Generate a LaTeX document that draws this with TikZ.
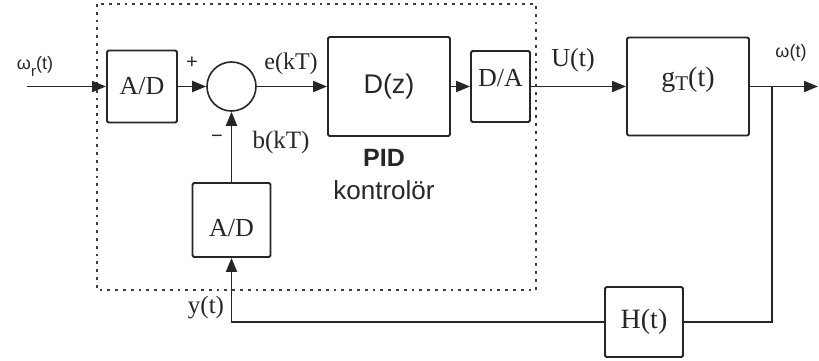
\documentclass[tikz,border=0pt]{standalone}
\usepackage{fontspec}
\setmainfont{Liberation Serif}
\setsansfont{Liberation Sans}
\usepackage{tikz}
\usetikzlibrary{arrows.meta,positioning}
\definecolor{ink}{HTML}{262626}
\definecolor{dotgray}{HTML}{3C3C3C}
\tikzset{
    every picture/.style={line join=miter},
    blockbox/.style={draw=ink,line width=1.9pt,rounded corners=1.5pt,inner sep=0pt,
      text=ink,font=\fontsize{26}{28}\selectfont},
    sumnode/.style={draw=ink,circle,line width=1.6pt,minimum size=49pt,inner sep=0pt},
    sigline/.style={draw=ink,line width=1.9pt},
    sigarrow/.style={sigline,-{Triangle[length=14pt,width=11pt]}},
    siglabel/.style={inner sep=0pt,text=ink,font=\fontsize{25}{28}\selectfont},
    greeklabel/.style={inner sep=0pt,text=ink,font=\sffamily\fontsize{18}{20}\selectfont},
    sflabel/.style={inner sep=0pt,text=ink,font=\sffamily\fontsize{26}{28}\selectfont},
    ctrlbox/.style={draw=dotgray,line width=2.8pt,dash pattern=on 2.8pt off 5pt}
}

\begin{document}
\begin{tikzpicture}[x=1pt,y=-1pt]
  \useasboundingbox (0,0) rectangle (819,361);
  % kontrolör sınırı
  \draw[ctrlbox] (97,4) rectangle (536,290);
  % bloklar
  \node[blockbox,minimum width=70pt,minimum height=72pt] (adin) at (142,86.5) {A/D};
  \node[sumnode] (sum) at (231.5,86.5) {};
  \node[blockbox,minimum width=122pt,minimum height=99pt,
    font=\sffamily\fontsize{27}{29}\selectfont] (dz) at (389,86.5) {D(z)};
  \node[blockbox,minimum width=59pt,minimum height=71pt] (da) at (500.5,86.5)
    {\raisebox{0pt}[0pt][0pt]{D/A}};
  \node[blockbox,minimum width=122pt,minimum height=98pt,
    font=\fontsize{28}{30}\selectfont] (gt) at (688,86.5)
    {\raisebox{0pt}[0pt][0pt]{g\raisebox{-4pt}{\fontsize{21}{21}\selectfont T}(t)}};
  \node[blockbox,minimum width=78pt,minimum height=74pt] (adfb) at (231.5,220)
    {\raisebox{-16pt}[0pt][0pt]{A/D}};
  \node[blockbox,minimum width=78pt,minimum height=70pt,
    font=\fontsize{28}{30}\selectfont] (ht) at (644,322) {H(t)};
  \coordinate (in) at (27,86.5);
  \coordinate (out) at (818,86.5);
  \coordinate (branch) at (772,86.5);
  % bağlantılar
  \draw[sigarrow] (in) -- (adin.west);
  \draw[sigarrow] (adin.east) -- (sum.west);
  \draw[sigarrow] (sum.east) -- (dz.west);
  \draw[sigarrow] (dz.east) -- (da.west);
  \draw[sigarrow] (da.east) -- (gt.west);
  \draw[sigarrow] (gt.east) -- (out);
  \draw[sigline] (branch) |- (ht.east);
  \draw[sigarrow] (ht.west) -| (adfb.south);
  \draw[sigarrow] (adfb.north) -- (sum.south);
  % etiketler
  \node[greeklabel] (wr) at (35,66) {ω\raisebox{-7pt}{\fontsize{15}{15}\selectfont r}(t)};
  \node[sflabel,font=\sffamily\fontsize{20}{22}\selectfont] (plus) at (192,63) {+};
  \node[sflabel,font=\sffamily\fontsize{20}{22}\selectfont] (minus) at (217,139) {−};
  \node[siglabel,font=\fontsize{24}{28}\selectfont] (ekt) at (291,64) {e(kT)};
  \node[siglabel] (bkt) at (281,142) {b(kT)};
  \node[sflabel,font=\sffamily\bfseries\fontsize{25}{28}\selectfont] (pid) at (384,158) {PID};
  \node[sflabel,below=14pt of pid] (kontrol) {kontrolör};
  \node[siglabel,font=\fontsize{26}{28}\selectfont] (ut) at (573,60) {U(t)};
  \node[greeklabel] (wt) at (791,53) {ω(t)};
  \node[siglabel] (yt) at (206,308) {y(t)};
\end{tikzpicture}
\end{document}
